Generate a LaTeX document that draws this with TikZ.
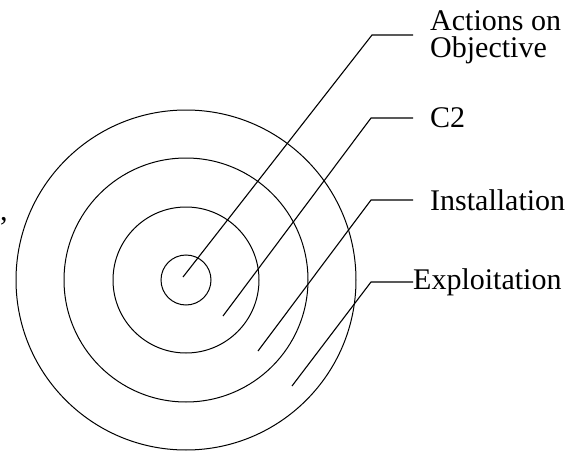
\documentclass[tikz,border=0pt]{standalone}
\usepackage{fontspec}
\setmainfont{Liberation Serif}
\usetikzlibrary{positioning}

\begin{document}
\begin{tikzpicture}[
            x=1pt, y=-1pt,
            ring/.style={circle, draw, line width=1pt, inner sep=0pt},
            leader/.style={line width=1.1pt},
            tag/.style={inner sep=0pt, align=left, font=\fontsize{30}{27}\selectfont}
        ]
            \useasboundingbox (0,0) rectangle (582,455);
            % rings
            \node[ring, minimum size=340pt] (exploit) at (186,280) {};
            \node[ring, minimum size=244pt] (install) at (186,280) {};
            \node[ring, minimum size=146pt] (ctwo) at (186,280) {};
            \node[ring, minimum size=50pt] (actions) at (186,280) {};
            
            % leader points
            \coordinate (actionsin) at (183,277);
            \coordinate (actionsbend) at (372,35);
            \coordinate (actionsend) at (413,35);
            \coordinate (ctwoin) at (223,316);
            \coordinate (ctwobend) at (371,118);
            \coordinate (ctwoend) at (413,118);
            \coordinate (installin) at (258,351);
            \coordinate (installbend) at (371,200);
            \coordinate (installend) at (413,200);
            \coordinate (exploitin) at (292,386);
            \coordinate (exploitbend) at (371,282);
            \coordinate (exploitend) at (413,282);
            
            \node[tag, right=17pt of actionsend, yshift=-2pt] (actionstext) {Actions on\\Objective};
            \node[tag, right=17pt of ctwoend] (ctwotext) {C2};
            \node[tag, right=17pt of installend] (installtext) {Installation};
            \node[tag, right=0pt of exploitend] (exploittext) {Exploitation};
            \node[tag, anchor=base west] (comma) at (0,220) {,};
            
            \draw[leader] (actionsin) -- (actionsbend) -- (actionsend);
            \draw[leader] (ctwoin) -- (ctwobend) -- (ctwoend);
            \draw[leader] (installin) -- (installbend) -- (installend);
            \draw[leader] (exploitin) -- (exploitbend) -- (exploitend);
        \end{tikzpicture}
\end{document}
